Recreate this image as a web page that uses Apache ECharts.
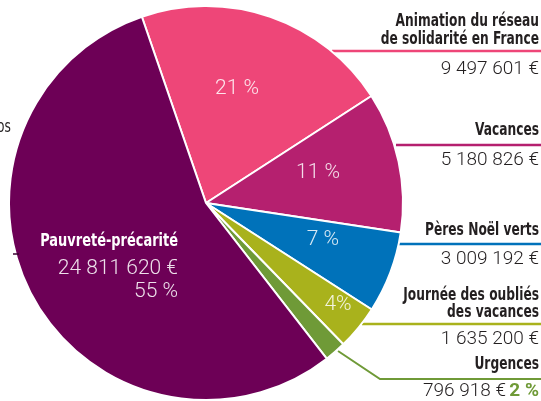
<!DOCTYPE html>
<html>
<head>
<meta charset="utf-8">
<script src="https://cdn.jsdelivr.net/npm/echarts@6/dist/echarts.min.js"></script>
<style>
  html, body { margin: 0; padding: 0; background: #fff; }
  #chart { width: 541px; height: 401px; }
</style>
</head>
<body>
<div id="chart"></div>
<script>
// slices, clockwise from the top
var categories = ['Animation du réseau\nde solidarité en France', 'Vacances', 'Pères Noël verts',
  'Journée des oubliés\ndes vacances', 'Urgences', 'Pauvreté-précarité'];
var amounts = [9497601, 5180826, 3009192, 1635200, 796918, 24811620];
var amountLabels = ['9 497 601 €', '5 180 826 €', '3 009 192 €', '1 635 200 €', '796 918 €', '24 811 620 €'];
var percentLabels = ['21 %', '11 %', '7 %', '4%', '2 %', '55 %'];
var colors = ['#ee4678', '#b5206f', '#0072ba', '#a9b21c', '#6f9a37', '#6d0056'];

var titleFont = '"DejaVu Sans Condensed", "DejaVu Sans", sans-serif';
var numFont = 'Roboto, "Noto Sans", sans-serif';
var squeeze = 0.8; // condensed look for the bold titles

// where the inside labels go
var insidePos = [[237, 89], [318, 173], [323, 240], [338, 305], null, [178, 280]];

// right-hand notes: title line centres, rule y, value y, rule start x
var notes = [
  { titles: [22, 40], rule: 51, value: 69, x0: 332 },
  { titles: [131], rule: 145, value: 160, x0: 396 },
  { titles: [231], rule: 244, value: 259, x0: 399 },
  { titles: [296, 313], rule: 324, value: 339, x0: 362 },
  { titles: [365], rule: 379, value: 391, x0: 380, bend: [338, 351] }
];

var chart = echarts.init(document.getElementById('chart'));

var pieData = amounts.map(function (v, i) {
  var d = { value: v, name: categories[i], itemStyle: { color: colors[i] } };
  if (i === 4) d.label = { show: false };
  if (i === 5) {
    d.label = {
      formatter: '{v|' + amountLabels[i] + '}\n{v|' + percentLabels[i] + '}',
      rich: {
        v: { fontFamily: numFont, fontWeight: 300, fontSize: 21, color: 'rgba(255,255,255,0.88)', align: 'right', lineHeight: 23 }
      }
    };
  }
  return d;
});

var graphics = [];
notes.forEach(function (n, i) {
  var lines = categories[i].split('\n');
  lines.forEach(function (t, k) {
    graphics.push({
      type: 'text', x: 539, y: n.titles[k], scaleX: squeeze, silent: true,
      style: { text: t, align: 'right', verticalAlign: 'middle', font: 'bold 17px ' + titleFont, fill: '#231f20' }
    });
  });
  var pts = n.bend ? [n.bend, [n.x0, n.rule], [541, n.rule]] : [[n.x0, n.rule], [541, n.rule]];
  graphics.push({
    type: 'polyline', silent: true,
    shape: { points: pts },
    style: { stroke: colors[i], lineWidth: i === 4 ? 2 : 2.5, fill: null }
  });
  if (i === 4) {
    graphics.push({
      type: 'text', x: 539, y: n.value, silent: true,
      style: {
        text: '{v|' + amountLabels[i] + '} {p|' + percentLabels[i] + '}',
        align: 'right', verticalAlign: 'middle',
        rich: {
          v: { font: '300 19px ' + numFont, fill: '#231f20' },
          p: { font: 'bold 19px ' + numFont, fill: colors[i] }
        }
      }
    });
  } else {
    graphics.push({
      type: 'text', x: 539, y: n.value, silent: true,
      style: { text: amountLabels[i], align: 'right', verticalAlign: 'middle', font: '300 19px ' + numFont, fill: '#231f20' }
    });
  }
});
// title of the big slice
graphics.push({
  type: 'text', x: 178, y: 241, scaleX: squeeze, silent: true, z: 10,
  style: { text: categories[5], align: 'right', verticalAlign: 'middle', font: 'bold 18px ' + titleFont, fill: '#fff' }
});
// cut-off remains of notes on the left
graphics.push({
  type: 'text', x: -3, y: 128, scaleX: squeeze, silent: true,
  style: { text: 'os', align: 'left', verticalAlign: 'middle', font: '17px ' + titleFont, fill: '#231f20' }
});
graphics.push({
  type: 'line', silent: true, z: 10,
  shape: { x1: 13, y1: 254, x2: 19, y2: 254 },
  style: { stroke: '#3a0030', lineWidth: 1.5 }
});

var option = {
  animation: false,
  graphic: graphics,
  series: [{
    type: 'pie',
    center: [206, 203],
    radius: [0, 197],
    startAngle: 109,
    clockwise: true,
    silent: true,
    z: 1,
    itemStyle: { borderColor: '#fff', borderWidth: 2 },
    label: {
      show: true,
      position: 'inside',
      formatter: function (p) { return percentLabels[p.dataIndex]; },
      fontFamily: numFont,
      fontWeight: 300,
      fontSize: 21,
      color: 'rgba(255,255,255,0.85)'
    },
    labelLine: { show: false },
    labelLayout: function (p) {
      var pos = insidePos[p.dataIndex];
      if (!pos) return {};
      if (p.dataIndex === 5) return { x: pos[0], y: pos[1], align: 'right', verticalAlign: 'middle' };
      return { x: pos[0], y: pos[1], align: 'center', verticalAlign: 'middle' };
    },
    data: pieData
  }]
};
chart.setOption(option);
</script>
</body>
</html>
